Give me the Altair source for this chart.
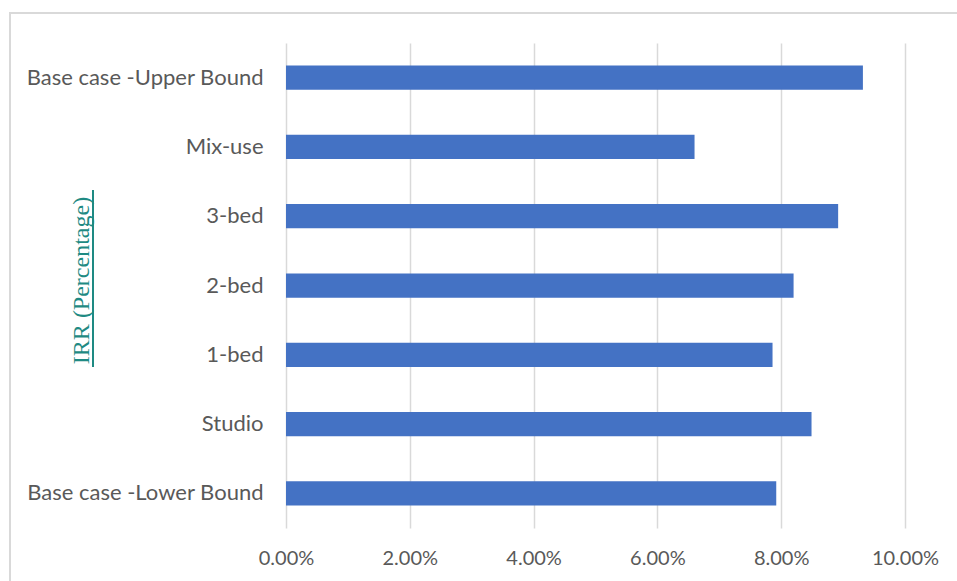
import altair as alt
import pandas as pd

categories = ["Base case -Upper Bound", "Mix-use", "3-bed", "2-bed", "1-bed", "Studio", "Base case -Lower Bound"]
irr_values = [0.0932, 0.0660, 0.0892, 0.0820, 0.0786, 0.0849, 0.0792]
x_ticks = [0, 0.02, 0.04, 0.06, 0.08, 0.10]

df = pd.DataFrame({"scenario": categories, "irr": irr_values})

FONT = "Lato"
GRAY = "#595959"

bars = alt.Chart(df).mark_bar(color="#4472C4").encode(
    x=alt.X("irr:Q",
            scale=alt.Scale(domain=[0, 0.10], nice=False),
            axis=alt.Axis(values=x_ticks, format=".2%", title=None, domain=False, ticks=False,
                          labelPadding=20, labelFontSize=20, labelFont=FONT, labelColor=GRAY,
                          labelFlush=False,
                          grid=True, gridColor="#d9d9d9", gridWidth=1.5)),
    y=alt.Y("scenario:N", sort=categories,
            scale=alt.Scale(paddingInner=0.65, paddingOuter=0.325),
            axis=alt.Axis(title="IRR (Percentage)", domain=False, ticks=False, labelPadding=23,
                          labelFontSize=22, labelFont=FONT, labelColor=GRAY, labelLimit=400,
                          titleFont="Liberation Serif", titleFontSize=24, titleFontWeight="normal",
                          titleColor="#1F8A83", titleX=-198, titleY=237, titleBaseline="alphabetic",
                          titleAngle=270, titleAlign="center")),
)

underline = alt.Chart(df).mark_rule(color="#1F8A83", strokeWidth=1.2).encode(
    x=alt.value(-193), y=alt.value(147), y2=alt.value(324)
)

frame = alt.Chart(df).mark_rect(fill=None, stroke="#d9d9d9", strokeWidth=1.5).encode(
    x=alt.value(-276), x2=alt.value(720), y=alt.value(-30), y2=alt.value(620)
)

chart = alt.layer(frame, bars, underline).properties(
    width=619, height=485,
    autosize=alt.AutoSizeParams(type="none"),
    padding={"left": 286, "top": 43, "right": 52, "bottom": 53},
    background="white",
).configure_view(stroke=None)

chart.save("out.html", embed_options={"renderer": "svg", "actions": False})
